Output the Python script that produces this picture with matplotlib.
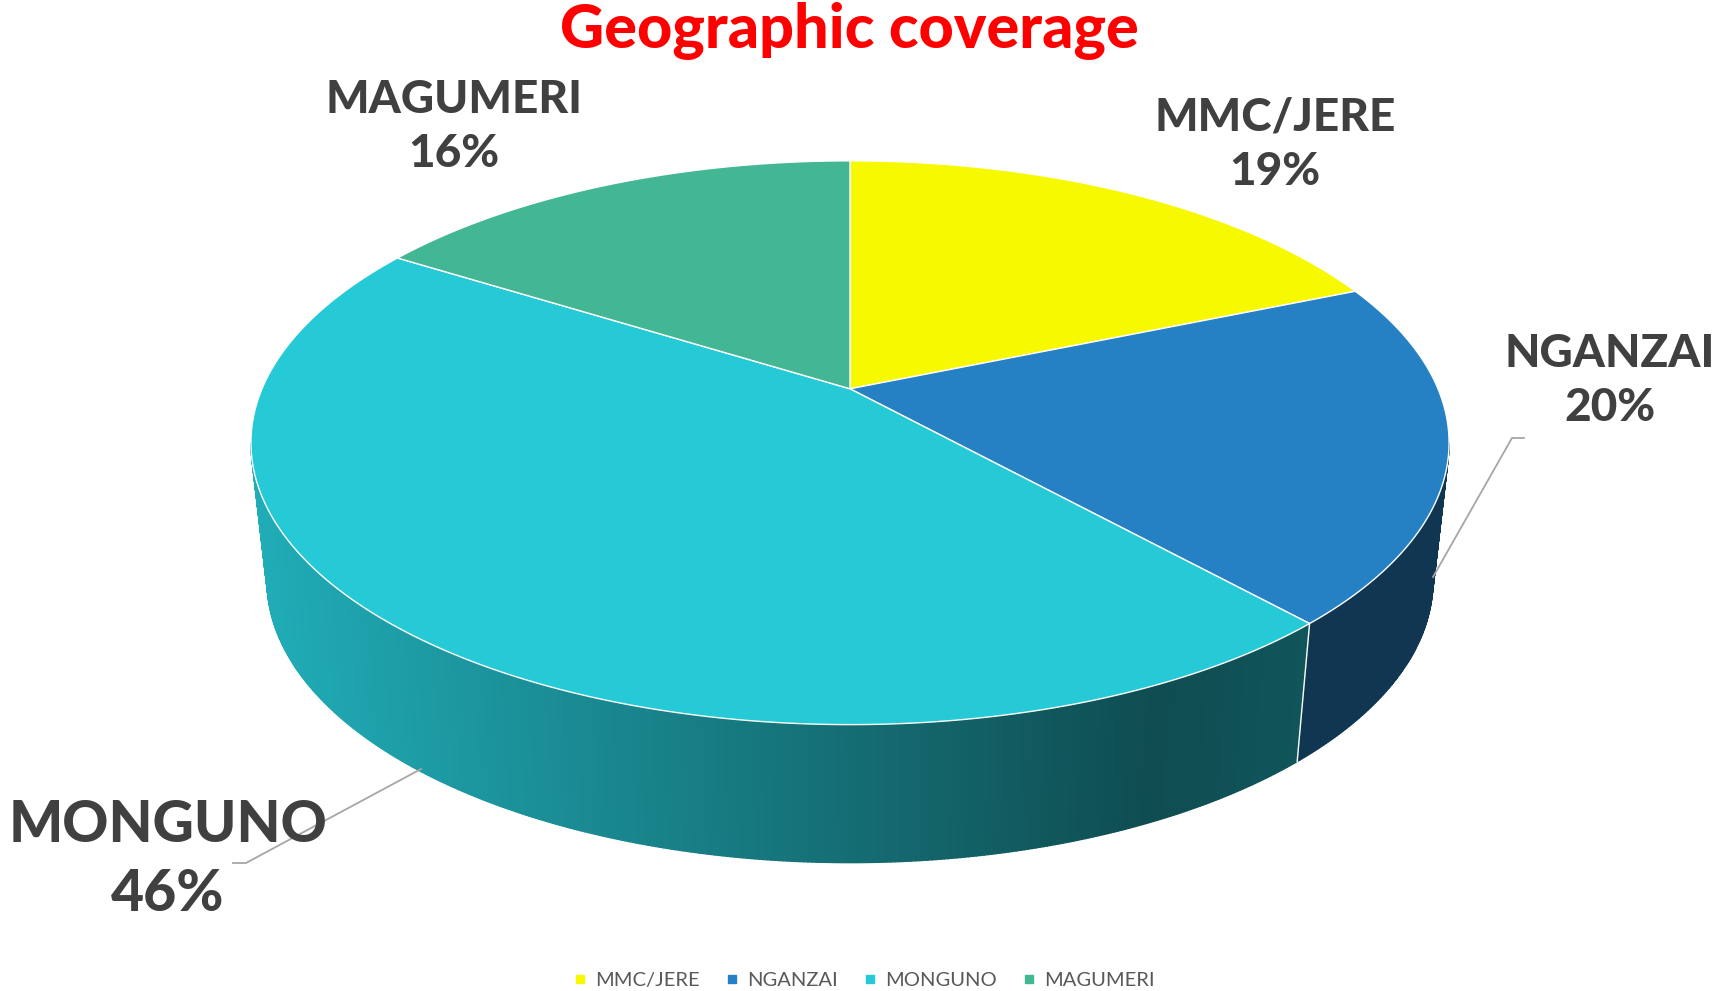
import numpy as np
import matplotlib
matplotlib.use('Agg')
import matplotlib.pyplot as plt
from matplotlib.patches import Polygon
from matplotlib.lines import Line2D
from matplotlib.colors import to_rgb

# data
DISTRICTS = ['MMC/JERE', 'NGANZAI', 'MONGUNO', 'MAGUMERI']
SHARES    = [18.7, 19.6, 45.6, 16.1]
COLORS    = ['#f7f900', '#2581c4', '#26cad6', '#43b794']

TITLE      = 'Geographic coverage'
LABEL_FONT = ['Lato', 'DejaVu Sans']
TEXT_GREY  = '#404040'

# projected pie geometry (pixel space, y down)
CX, K = 850.0, 588.0
A, B, C = 197.2, 388.8, -0.1913
DEPTH, SHRINK = 138.0, 0.973


def top_pt(theta):
    t = np.radians(theta)
    u, v = np.sin(t), -np.cos(t)
    d = 1 + C * v
    return CX + K * u / d, (A * v + B) / d


def bottom_pt(theta):
    x, y = top_pt(theta)
    return CX + SHRINK * (x - CX), y + DEPTH


def shade(x):
    return np.interp(x, [250, 1150, 1300, 1450], [0.86, 0.38, 0.42, 0.42])


fig = plt.figure(figsize=(17.27, 9.91), dpi=100)
ax = fig.add_axes([0, 0, 1, 1])
ax.set_xlim(0, 1727)
ax.set_ylim(991, 0)
ax.axis('off')

total = sum(SHARES)
bounds = np.concatenate([[0], np.cumsum(SHARES) / total * 360])

# visible front of the side wall
vis_lo, vis_hi = 101.0, 259.0

# side walls
for i, col in enumerate(COLORS):
    a0, a1 = max(bounds[i], vis_lo), min(bounds[i + 1], vis_hi)
    if a1 <= a0:
        continue
    base = np.array(to_rgb(col))
    th = np.linspace(a0, a1, max(int((a1 - a0) * 3), 2))
    for t0, t1 in zip(th[:-1], th[1:]):
        pts = [top_pt(t0), top_pt(t1), bottom_pt(t1), bottom_pt(t0)]
        xm = np.mean([p[0] for p in pts])
        c = np.clip(base * shade(xm), 0, 1)
        ax.add_patch(Polygon(pts, closed=True, facecolor=c, edgecolor=c,
                             lw=1.0, zorder=1))

# white seams on the wall between slices
for b in bounds[1:-1]:
    if vis_lo < b < vis_hi:
        (x0, y0), (x1, y1) = top_pt(b), bottom_pt(b)
        ax.plot([x0, x1], [y0, y1], color='white', lw=1.0, zorder=2)

# top face
apex = (CX, B)
for i, col in enumerate(COLORS):
    th = np.linspace(bounds[i], bounds[i + 1], 200)
    pts = [apex] + [top_pt(t) for t in th]
    ax.add_patch(Polygon(pts, closed=True, facecolor=col, edgecolor='white',
                         lw=1.0, zorder=3))

# leader lines
ax.plot([1524, 1512, 1433], [438, 438, 577], color='#a6a6a6', lw=1.3, zorder=4)
ax.plot([233, 246, 421], [863, 863, 769], color='#a6a6a6', lw=1.3, zorder=4)

# data labels
pcts = [f'{round(s / total * 100)}%' for s in SHARES]
label_pos = [(1275, 145, 33), (1610, 381, 33), (168, 860, 41), (454, 127, 33)]
for name, pct, (lx, ly, fs) in zip(DISTRICTS, pcts, label_pos):
    ax.text(lx, ly, f'{name}\n{pct}', ha='center', va='center', fontsize=fs,
            fontweight='black', color=TEXT_GREY, family=LABEL_FONT,
            linespacing=1.38, zorder=5)

ax.text(849, 31, TITLE, ha='center', va='center', fontsize=44,
        fontweight='black', color='#ff0000', family=LABEL_FONT)

handles = [Line2D([], [], marker='s', ls='', color=c, markersize=6) for c in COLORS]
fig.legend(handles, DISTRICTS, loc='center', bbox_to_anchor=(0.5, 1 - 980 / 991),
           ncol=4, frameon=False, labelcolor='#595959', handlelength=0.7,
           handletextpad=0.4, columnspacing=1.25, prop={'family': LABEL_FONT, 'size': 14.5})

fig.savefig('out.png', dpi=100)
